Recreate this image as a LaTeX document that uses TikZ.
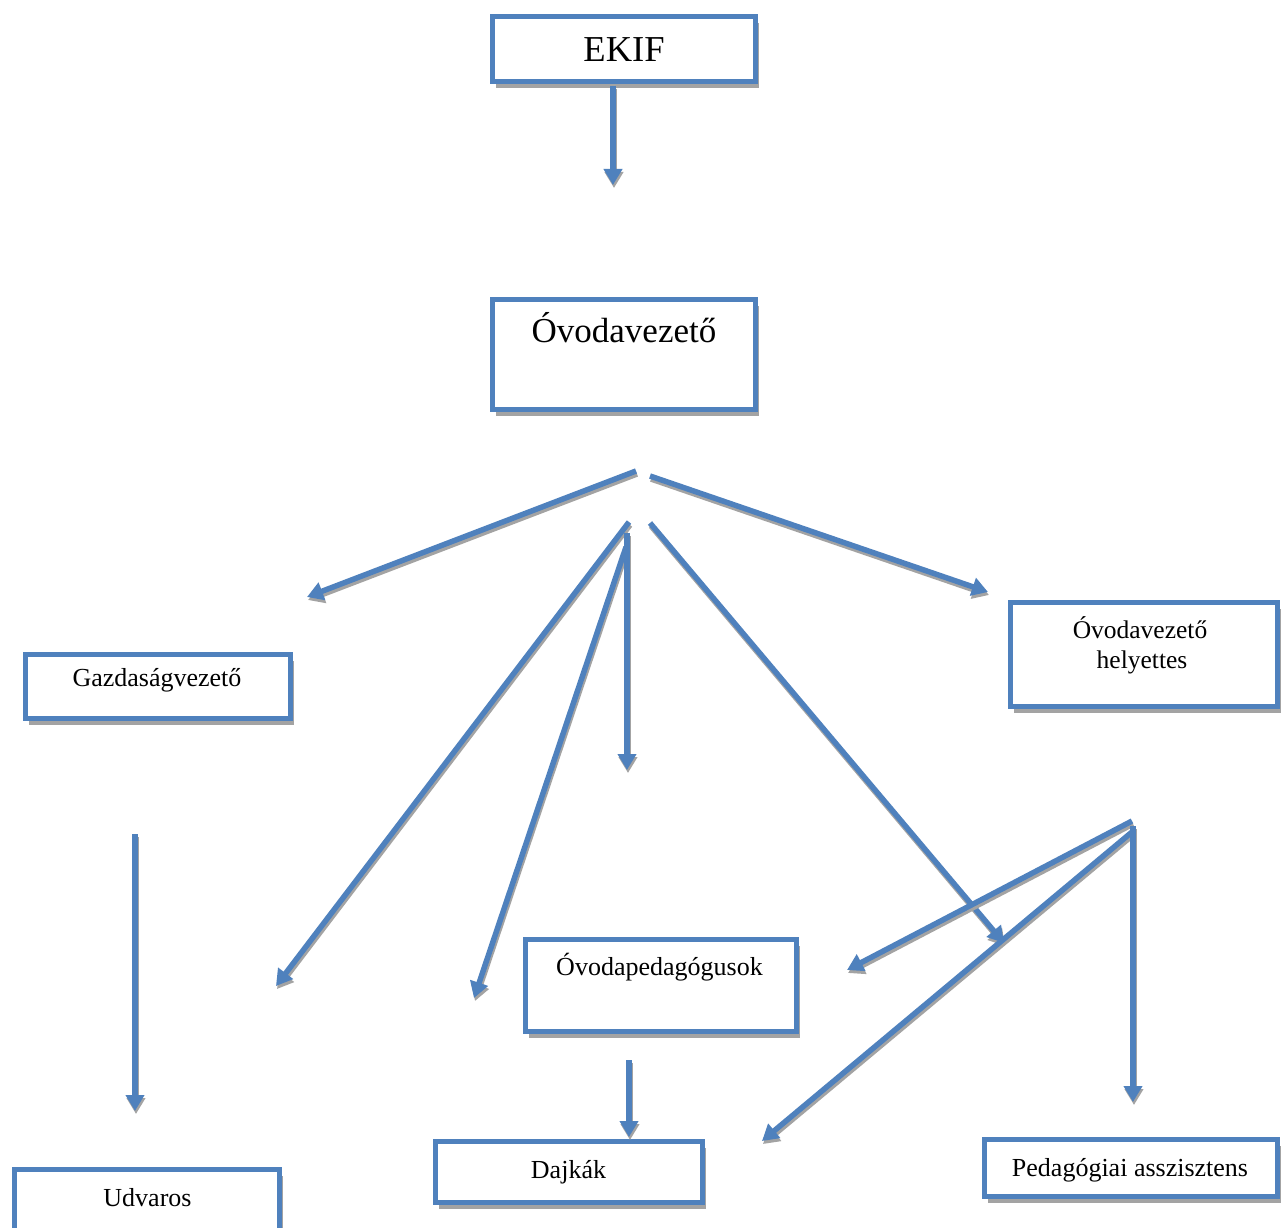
\documentclass[tikz,border=0pt]{standalone}
\usepackage{fontspec}
\setmainfont{Liberation Serif}
\usetikzlibrary{arrows.meta,shadows}
\definecolor{boxblue}{HTML}{4F81BD}
\definecolor{shadowc}{HTML}{A3A3A3}
\newcommand\shadowedarrow[2]{%
  \draw[lineshadow] ([shift={(1pt,-3pt)}]#1) -- ([shift={(1pt,-3pt)}]#2);
  \draw[arrowline] (#1) -- (#2);}
\begin{document}
\begin{tikzpicture}[x=1pt,y=-1pt,
  orgbox/.style={draw=boxblue, line width=5pt, fill=white, inner sep=0pt,
    drop shadow={shadow xshift=3.5pt, shadow yshift=-6.5pt, fill=shadowc, opacity=1}},
  lbl/.style={inner sep=0pt, anchor=base, font=\fontsize{26}{30}\selectfont},
  biglbl/.style={inner sep=0pt, anchor=base, font=\fontsize{35}{40}\selectfont},
  arrowline/.style={draw=boxblue, line width=5.5pt, -{Triangle[width=18pt,length=16pt]}},
  lineshadow/.style={draw=shadowc, line width=5.5pt, -{Triangle[width=18pt,length=16pt]}}]
\useasboundingbox (0,0) rectangle (1283,1228);
\clip (0,0) rectangle (1283,1228);
\fill[white] (0,0) rectangle (1283,1228);

% boxes
\node[orgbox, minimum width=263pt, minimum height=65pt] (ekif) at (624,49) {};
\node[biglbl, font=\fontsize{36.5}{40}\selectfont] (ekift) at (624,61.7) {EKIF};

\node[orgbox, minimum width=263pt, minimum height=110pt] (ov) at (624,354.5) {};
\node[biglbl] (ovt) at (624,342.7) {Óvodavezető};

\node[orgbox, minimum width=265pt, minimum height=64pt] (gv) at (158,686.5) {};
\node[lbl] (gvt) at (157,686.7) {Gazdaságvezető};

\node[orgbox, minimum width=267pt, minimum height=104pt] (hely) at (1143.5,654.5) {};
\node[lbl, font=\fontsize{25.5}{30}\selectfont] (helyt1) at (1140,638) {Óvodavezető};
\node[lbl, font=\fontsize{25.5}{30}\selectfont] (helyt2) at (1142,668) {helyettes};

\node[orgbox, minimum width=271pt, minimum height=92pt] (ped) at (660.5,985.5) {};
\node[lbl] (pedt) at (659.5,975) {Óvodapedagógusok};

\node[orgbox, minimum width=265pt, minimum height=68pt] (udv) at (147,1203.5) {};
\node[lbl] (udvt) at (147.5,1206.7) {Udvaros};

\node[orgbox, minimum width=267pt, minimum height=61pt] (dajk) at (569,1171.5) {};
\node[lbl] (dajkt) at (568.5,1178) {Dajkák};

\node[orgbox, minimum width=293pt, minimum height=57pt] (asz) at (1131,1168) {};
\node[lbl] (aszt) at (1130,1176.7) {Pedagógiai asszisztens};

% arrow end points
\coordinate (a1s) at (613,86);   \coordinate (a1e) at (613,185);
\coordinate (a2s) at (636,471);  \coordinate (a2e) at (307,597);
\coordinate (a3s) at (650,476);  \coordinate (a3e) at (988,592);
\coordinate (a4s) at (629,522);  \coordinate (a4e) at (276,986);
\coordinate (a5s) at (626,547);  \coordinate (a5e) at (474,998);
\coordinate (a6s) at (627,533);  \coordinate (a6e) at (627,770);
\coordinate (a7s) at (650,523);  \coordinate (a7e) at (1004,943);
\coordinate (a8s) at (1132,821); \coordinate (a8e) at (847,970);
\coordinate (a9s) at (1132,832); \coordinate (a9e) at (762,1141);
\coordinate (a10s) at (1133,826); \coordinate (a10e) at (1133,1102);
\coordinate (a11s) at (135,834);  \coordinate (a11e) at (135,1111);
\coordinate (a12s) at (629,1060); \coordinate (a12e) at (629,1137);

\shadowedarrow{a1s}{a1e}
\shadowedarrow{a2s}{a2e}
\shadowedarrow{a3s}{a3e}
\shadowedarrow{a4s}{a4e}
\shadowedarrow{a5s}{a5e}
\shadowedarrow{a6s}{a6e}
\shadowedarrow{a7s}{a7e}
\shadowedarrow{a8s}{a8e}
\shadowedarrow{a9s}{a9e}
\shadowedarrow{a10s}{a10e}
\shadowedarrow{a11s}{a11e}
\shadowedarrow{a12s}{a12e}
\end{tikzpicture}
\end{document}
